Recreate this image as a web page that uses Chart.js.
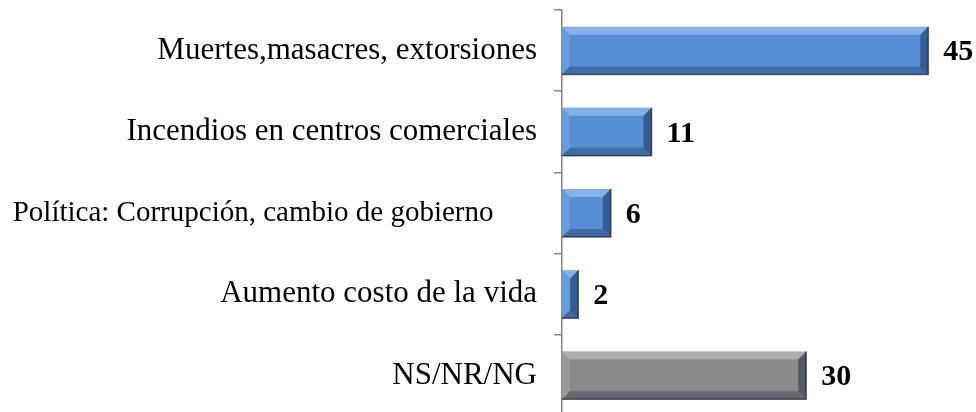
<!DOCTYPE html>
<html lang="es">
<head>
<meta charset="UTF-8">
<title>Temas</title>
<script src="https://cdn.jsdelivr.net/npm/chart.js"></script>
<style>
    html, body { margin: 0; padding: 0; background: #fff; overflow: hidden; }
    .caja { position: relative; width: 976px; height: 416px; }
</style>
</head>
<body>
<div class="caja">
    <canvas id="grafico"></canvas>
</div>
<script>
    // categorias y valores
    const categorias = [
        'Muertes,masacres, extorsiones',
        'Incendios en centros comerciales',
        'Política: Corrupción, cambio de gobierno      ',
        'Aumento costo de la vida',
        'NS/NR/NG'
    ];
    const valores = [45, 11, 6, 2, 30];
    const colores = ['#558ED5', '#558ED5', '#558ED5', '#558ED5', '#8A8A8A'];

    const fuente = '"Liberation Serif", "Times New Roman", serif';

    // efecto de bisel sobre cada barra
    const bisel = {
        id: 'bisel',
        afterDatasetsDraw(chart) {
            const ctx = chart.ctx;
            const meta = chart.getDatasetMeta(0);
            meta.data.forEach((barra, i) => {
                const p = barra.getProps(['x', 'y', 'base', 'height'], true);
                const x0 = p.base, x1 = p.x;
                const y0 = p.y - p.height / 2, y1 = p.y + p.height / 2;
                const b = Math.min(8, (x1 - x0) / 2, p.height / 2);
                const gris = i === 4;
                ctx.save();
                // arriba
                ctx.fillStyle = gris ? 'rgba(255,255,255,0.30)' : 'rgba(190,220,255,0.45)';
                ctx.beginPath();
                ctx.moveTo(x0, y0); ctx.lineTo(x1, y0); ctx.lineTo(x1 - b, y0 + b); ctx.lineTo(x0 + b, y0 + b);
                ctx.closePath(); ctx.fill();
                // izquierda
                ctx.fillStyle = gris ? 'rgba(255,255,255,0.12)' : 'rgba(190,220,255,0.18)';
                ctx.beginPath();
                ctx.moveTo(x0, y0); ctx.lineTo(x0 + b, y0 + b); ctx.lineTo(x0 + b, y1 - b); ctx.lineTo(x0, y1);
                ctx.closePath(); ctx.fill();
                // abajo
                ctx.fillStyle = 'rgba(0,20,50,0.28)';
                ctx.beginPath();
                ctx.moveTo(x0, y1); ctx.lineTo(x0 + b, y1 - b); ctx.lineTo(x1 - b, y1 - b); ctx.lineTo(x1, y1);
                ctx.closePath(); ctx.fill();
                // derecha
                ctx.fillStyle = 'rgba(0,20,50,0.40)';
                ctx.beginPath();
                ctx.moveTo(x1, y0); ctx.lineTo(x1, y1); ctx.lineTo(x1 - b, y1 - b); ctx.lineTo(x1 - b, y0 + b);
                ctx.closePath(); ctx.fill();
                // sombra fina abajo y a la derecha
                ctx.strokeStyle = 'rgba(0,0,0,0.55)';
                ctx.lineWidth = 1.5;
                ctx.beginPath();
                ctx.moveTo(x0, y1); ctx.lineTo(x1, y1); ctx.lineTo(x1, y0);
                ctx.stroke();
                ctx.restore();
            });
        }
    };

    // numeros al final de cada barra
    const etiquetas = {
        id: 'etiquetas',
        afterDatasetsDraw(chart) {
            const ctx = chart.ctx;
            const meta = chart.getDatasetMeta(0);
            ctx.save();
            ctx.font = 'bold 30px ' + fuente;
            ctx.fillStyle = '#000';
            ctx.textAlign = 'left';
            ctx.textBaseline = 'middle';
            meta.data.forEach((barra, i) => {
                ctx.fillText(String(valores[i]), barra.x + 15, barra.y + 2);
            });
            ctx.restore();
        }
    };

    const ctx = document.getElementById('grafico');
    new Chart(ctx, {
        type: 'bar',
        data: {
            labels: categorias,
            datasets: [{
                data: valores,
                backgroundColor: colores,
                borderWidth: 0,
                barPercentage: 0.59,
                categoryPercentage: 1
            }]
        },
        options: {
            indexAxis: 'y',
            responsive: true,
            maintainAspectRatio: false,
            animation: false,
            layout: { padding: { top: 10, right: 7, bottom: 0, left: 0 } },
            plugins: {
                legend: { display: false },
                tooltip: { enabled: false }
            },
            scales: {
                x: {
                    display: false,
                    min: 0,
                    max: 50
                },
                y: {
                    afterFit(scale) {
                        scale.width = 562;
                        scale.paddingTop = 0;
                        scale.paddingBottom = 0;
                    },
                    border: { display: true, color: '#868686', width: 1.5 },
                    grid: {
                        drawOnChartArea: false,
                        drawTicks: true,
                        tickLength: 8,
                        color: '#868686',
                        lineWidth: 1.5
                    },
                    ticks: {
                        color: '#000',
                        padding: 17,
                        font: (c) => ({ family: fuente, size: c.index === 2 ? 29 : 31 })
                    }
                }
            }
        },
        plugins: [bisel, etiquetas]
    });
</script>
</body>
</html>
